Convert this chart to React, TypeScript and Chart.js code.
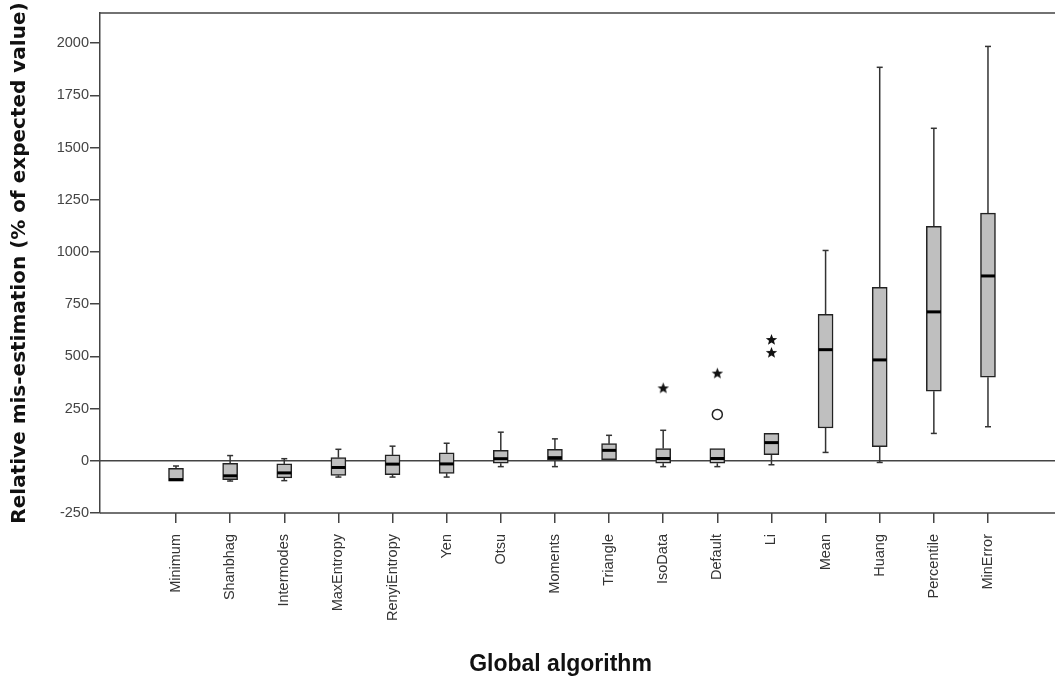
import React, { useEffect, useRef } from 'react';
import { Chart, registerables } from 'chart.js';

Chart.register(...registerables);

const categories = ['Minimum', 'Shanbhag', 'Intermodes', 'MaxEntropy', 'RenyiEntropy', 'Yen', 'Otsu', 'Moments', 'Triangle', 'IsoData', 'Default', 'Li', 'Mean', 'Huang', 'Percentile', 'MinError'];
const whiskerLow = [-97, -97, -95, -78, -78, -78, -28, -28, 5, -28, -28, -19, 40, -8, 131, 163];
const q1 = [-97, -90, -82, -70, -66, -60, -12, 0, 5, -12, -12, 29, 157, 67, 333, 400];
const median = [-90, -72, -58, -32, -16, -15, 10, 15, 50, 11, 11, 87, 532, 483, 713, 885];
const q3 = [-36, -12, -15, 15, 28, 38, 50, 55, 82, 59, 59, 132, 701, 830, 1122, 1186];
const whiskerHigh = [-25, 25, 10, 55, 70, 84, 137, 105, 122, 146, 59, 132, 1007, 1884, 1592, 1984];
const extremeCategories = ['IsoData', 'Default', 'Li', 'Li'];
const extremeValues = [349, 420, 519, 581];
const outlierCategories = ['Default'];
const outlierValues = [222];
const yTickValues = [-250, 0, 250, 500, 750, 1000, 1250, 1500, 1750, 2000];

function makeStar(): HTMLCanvasElement {
  const c = document.createElement('canvas');
  c.width = 13;
  c.height = 13;
  const g = c.getContext('2d')!;
  g.fillStyle = '#111';
  g.beginPath();
  for (let k = 0; k < 10; k++) {
    const r = k % 2 === 0 ? 6 : 2.6;
    const a = -Math.PI / 2 + (k * Math.PI) / 5;
    const px = 6.5 + r * Math.cos(a);
    const py = 7 + r * Math.sin(a);
    if (k === 0) g.moveTo(px, py);
    else g.lineTo(px, py);
  }
  g.closePath();
  g.fill();
  return c;
}

const boxPlugin = {
  id: 'boxParts',
  beforeDatasetsDraw(chart: any) {
    const { ctx, scales, chartArea } = chart;
    const x = scales.x;
    const y = scales.y;
    ctx.save();
    // zero reference line and frame
    ctx.strokeStyle = '#444';
    ctx.lineWidth = 1.5;
    const y0 = y.getPixelForValue(0);
    ctx.beginPath();
    ctx.moveTo(chartArea.left, y0);
    ctx.lineTo(chart.width, y0);
    ctx.moveTo(chartArea.left, chartArea.top);
    ctx.lineTo(chart.width, chartArea.top);
    ctx.moveTo(chartArea.left, chartArea.bottom);
    ctx.lineTo(chart.width, chartArea.bottom);
    ctx.stroke();
    // whiskers
    ctx.strokeStyle = '#333';
    ctx.lineWidth = 1.5;
    categories.forEach((_, i) => {
      const px = x.getPixelForValue(i);
      const seg = (a: number, b: number) => {
        if (a === b) return;
        const ya = y.getPixelForValue(a);
        const yb = y.getPixelForValue(b);
        ctx.beginPath();
        ctx.moveTo(px, ya);
        ctx.lineTo(px, yb);
        ctx.stroke();
        ctx.beginPath();
        ctx.moveTo(px - 3, yb);
        ctx.lineTo(px + 3, yb);
        ctx.stroke();
      };
      seg(q3[i], whiskerHigh[i]);
      seg(q1[i], whiskerLow[i]);
    });
    ctx.restore();
  },
  afterDatasetsDraw(chart: any) {
    const { ctx, scales } = chart;
    const x = scales.x;
    const y = scales.y;
    ctx.save();
    ctx.strokeStyle = '#000';
    ctx.lineWidth = 3;
    categories.forEach((_, i) => {
      const px = x.getPixelForValue(i);
      const py = y.getPixelForValue(median[i]);
      ctx.beginPath();
      ctx.moveTo(px - 7, py);
      ctx.lineTo(px + 7, py);
      ctx.stroke();
    });
    ctx.restore();
  },
};

export default function App() {
  const ref = useRef<HTMLCanvasElement | null>(null);

  useEffect(() => {
    if (!ref.current) return;
    Chart.defaults.font.family = "'Liberation Sans', Arial, sans-serif";
    const star = makeStar();
    const chart = new Chart(ref.current, {
      type: 'bar',
      data: {
        datasets: [
          {
            type: 'bar',
            data: categories.map((_, i) => ({ x: i, y: [q1[i], q3[i]] })) as any,
            backgroundColor: '#bfbfbf',
            borderColor: '#222',
            borderWidth: 1.5,
            borderSkipped: false,
            barThickness: 15,
          },
          {
            type: 'scatter',
            data: extremeCategories.map((c, k) => ({ x: categories.indexOf(c), y: extremeValues[k] })),
            pointStyle: star as any,
            pointRadius: 6,
          },
          {
            type: 'scatter',
            data: outlierCategories.map((c, k) => ({ x: categories.indexOf(c), y: outlierValues[k] })),
            pointStyle: 'circle',
            pointRadius: 5,
            borderColor: '#222',
            backgroundColor: '#fff',
            borderWidth: 1.5,
          },
        ] as any,
      },
      options: {
        animation: false,
        responsive: false,
        layout: { padding: { left: 0, right: 34, top: 13, bottom: 0 } },
        plugins: { legend: { display: false }, tooltip: { enabled: false } },
        scales: {
          x: {
            type: 'linear',
            offset: false,
            min: -1.404,
            max: 15.61,
            afterBuildTicks: (s: any) => {
              s.ticks = categories.map((_, i) => ({ value: i }));
            },
            afterFit: (s: any) => {
              s.height = 166;
            },
            ticks: {
              autoSkip: false,
              minRotation: 90,
              maxRotation: 90,
              padding: 11,
              color: '#333',
              font: { size: 14.5 },
              callback: (v: any) => categories[Math.round(Number(v))] ?? '',
            },
            grid: { offset: false, drawOnChartArea: false, drawTicks: true, tickLength: 10, color: '#444', lineWidth: 1.5 },
            border: { display: false },
            title: {
              display: true,
              text: 'Global algorithm',
              color: '#111',
              font: { size: 23, weight: 'bold' },
              padding: { top: 0, bottom: 1 },
            },
          },
          y: {
            min: -250,
            max: 2144,
            afterBuildTicks: (s: any) => {
              s.ticks = yTickValues.map((v) => ({ value: v }));
            },
            afterFit: (s: any) => {
              s.width = 100;
            },
            ticks: { padding: 1, color: '#444', font: { size: 14.5 }, callback: (v: any) => String(v) },
            grid: { drawOnChartArea: false, drawTicks: true, tickLength: 10, color: '#444', lineWidth: 1.5 },
            border: { display: true, color: '#444', width: 1.5 },
            title: {
              display: true,
              text: 'Relative mis-estimation (% of expected value)',
              color: '#111',
              font: { family: "'DejaVu Sans', 'Liberation Sans', sans-serif", size: 20, weight: 'bold' },
              padding: { top: 8, bottom: 0 },
            },
          },
        },
      } as any,
      plugins: [boxPlugin],
    });
    return () => chart.destroy();
  }, []);

  return (
    <div style={{ position: 'fixed', left: 0, top: 0, width: 1055, height: 679, background: '#fff' }}>
      <canvas ref={ref} width={1055} height={679} style={{ display: 'block', width: 1055, height: 679 }} />
    </div>
  );
}
